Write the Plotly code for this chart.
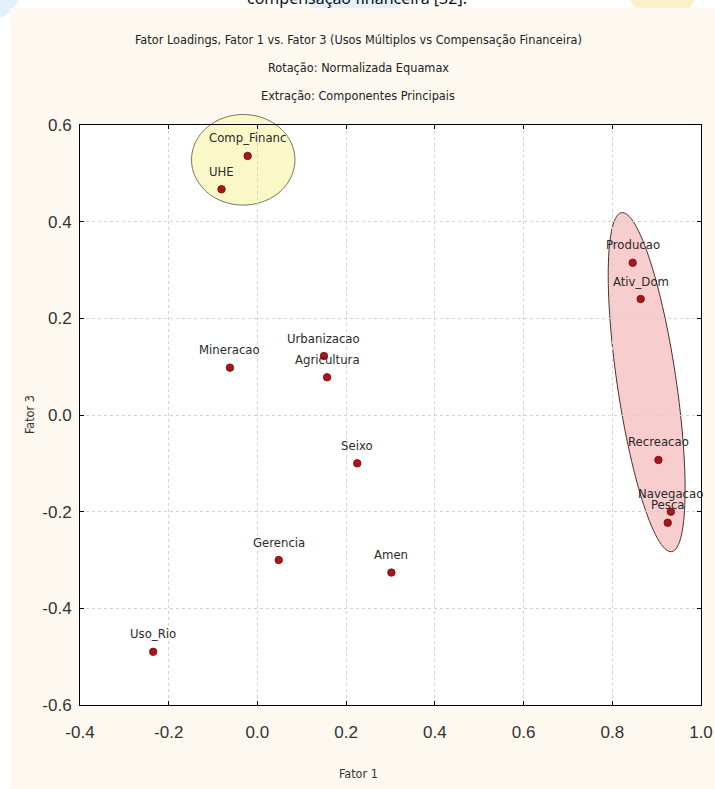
import numpy as np
import plotly.graph_objects as go

# Factor loadings (Fator 1 vs Fator 3)
variables = ["Comp_Financ", "UHE", "Mineracao", "Urbanizacao", "Agricultura",
             "Seixo", "Gerencia", "Amen", "Uso_Rio", "Producao", "Ativ_Dom",
             "Recreacao", "Navegacao", "Pesca"]
fator1 = [-0.022, -0.081, -0.062, 0.150, 0.157, 0.225, 0.048, 0.302, -0.235,
          0.846, 0.864, 0.904, 0.932, 0.925]
fator3 = [0.536, 0.467, 0.098, 0.122, 0.078, -0.100, -0.300, -0.326, -0.490,
          0.315, 0.240, -0.093, -0.200, -0.223]

x_ticks = [-0.4, -0.2, 0.0, 0.2, 0.4, 0.6, 0.8, 1.0]
x_tick_labels = ["-0.4", "-0.2", "0.0", "0.2", "0.4", "0.6", "0.8", "1.0"]
y_ticks = [-0.6, -0.4, -0.2, 0.0, 0.2, 0.4, 0.6]
y_tick_labels = ["-0.6", "-0.4", "-0.2", "0.0", "0.2", "0.4", "0.6"]

title_lines = [
    "Fator Loadings, Fator 1 vs. Fator 3 (Usos Múltiplos vs Compensação Financeira)",
    "Rotação: Normalizada Equamax",
    "Extração: Componentes Principais",
]

# Page / plot-area geometry (px)
W, H = 715, 789
ML, MR, MT, MB = 80, 14, 125, 84
PW, PH = W - ML - MR, H - MT - MB
XR = (-0.4, 1.0)
YR = (-0.6, 0.6)
SX = PW / (XR[1] - XR[0])
SY = PH / (YR[1] - YR[0])

NARROW = "DejaVu Sans Condensed, DejaVu Sans, sans-serif"
CREAM = "#fdf9f1"


def px_x(xp):
    return (xp - ML) / PW


def px_y(yp):
    return (H - MB - yp) / PH


def data_to_screen(x, y):
    return ML + (x - XR[0]) * SX, H - MB - (y - YR[0]) * SY


def ellipse_path(cx, cy, a, b, tilt_deg, n=120):
    """Ellipse centred on a data point. a = half-length along the long axis,
    b = half-width, both in screen px; the long axis is tilted tilt_deg from
    vertical (top leaning left for positive values). Paper coordinates."""
    X0, Y0 = data_to_screen(cx, cy)
    t = np.radians(tilt_deg)
    major = np.array([np.sin(t), np.cos(t)])
    minor = np.array([np.cos(t), -np.sin(t)])
    pts = []
    for s in np.linspace(0, 2 * np.pi, n):
        p = np.array([X0, Y0]) + a * np.cos(s) * major + b * np.sin(s) * minor
        pts.append((px_x(p[0]), px_y(p[1])))
    return "M " + " L ".join(f"{u:.5f},{v:.5f}" for u, v in pts) + " Z"


fig = go.Figure()

fig.add_trace(go.Scatter(
    x=fator1, y=fator3, mode="markers",
    marker=dict(size=7.5, color="#a8161a", line=dict(color="#6e0c0e", width=0.8)),
    hovertext=variables, hoverinfo="text", showlegend=False,
    cliponaxis=False,
))

shapes = [
    # faint watermark blobs in the page header strip
    dict(type="circle", xref="paper", yref="paper", layer="below",
         x0=px_x(300), x1=px_x(410), y0=px_y(30), y1=px_y(-80),
         fillcolor="#e3f1fb", line=dict(width=0)),
    dict(type="circle", xref="paper", yref="paper", layer="below",
         x0=px_x(-40), x1=px_x(20), y0=px_y(20), y1=px_y(-40),
         fillcolor="#e3f1fb", line=dict(width=0)),
    dict(type="circle", xref="paper", yref="paper", layer="below",
         x0=px_x(625), x1=px_x(700), y0=px_y(20), y1=px_y(-60),
         fillcolor="#fbf1c8", line=dict(width=0)),
    # figure background and plot area
    dict(type="rect", xref="paper", yref="paper", layer="below",
         x0=px_x(10), x1=px_x(W + 5), y0=px_y(H + 5), y1=px_y(8),
         fillcolor=CREAM, line=dict(width=0)),
    dict(type="rect", xref="paper", yref="paper", layer="below",
         x0=0, x1=1, y0=0, y1=1, fillcolor="white", line=dict(width=0)),
    # grouping ellipses
    dict(type="path", xref="paper", yref="paper", layer="below",
         path=ellipse_path(-0.032, 0.528, 45.3, 51.7, 0),
         fillcolor="#fbf8c8", line=dict(color="#77735a", width=1)),
    dict(type="path", xref="paper", yref="paper", layer="below",
         path=ellipse_path(0.8775, 0.068, 171.3, 29.5, 8.4),
         fillcolor="#f8cdcd", line=dict(color="#4d3030", width=1)),
]

annotations = []
# point labels
for name, xv, yv in zip(variables, fator1, fator3):
    annotations.append(dict(
        x=xv, y=yv, xref="x", yref="y", text=name, showarrow=False,
        yshift=18, font=dict(family=NARROW, size=13, color="#2a2a2a"),
        xanchor="center", yanchor="middle"))

# chart titles
for i, line in enumerate(title_lines):
    annotations.append(dict(
        x=px_x(358), y=px_y(39 + 28.5 * i), xref="paper", yref="paper",
        text=line, showarrow=False, xanchor="center", yanchor="middle",
        font=dict(family=NARROW, size=12.6, color="#222222")))

# axis titles
annotations.append(dict(
    x=px_x(358), y=px_y(773), xref="paper", yref="paper", text="Fator 1",
    showarrow=False, xanchor="center", yanchor="middle",
    font=dict(family=NARROW, size=12.5, color="#333333")))
annotations.append(dict(
    x=px_x(29), y=px_y(415), xref="paper", yref="paper", text="Fator 3",
    showarrow=False, xanchor="center", yanchor="middle", textangle=-90,
    font=dict(family=NARROW, size=12.5, color="#333333")))

# header text of the page this figure sits in
annotations.append(dict(
    x=px_x(357), y=px_y(-2), xref="paper", yref="paper",
    text="compensação financeira [32].", showarrow=False,
    xanchor="center", yanchor="middle",
    font=dict(family="Noto Sans, sans-serif", size=16, color="#111111")))

axis_common = dict(
    showline=True, linecolor="black", linewidth=1, mirror="ticks",
    ticks="inside", ticklen=4, tickcolor="black",
    showgrid=True, gridcolor="#d2d2d2", griddash="dot", gridwidth=1,
    zeroline=False,
    tickfont=dict(family="Liberation Sans, Arial, sans-serif", size=17,
                  color="#333333"),
)

fig.update_layout(
    width=W, height=H,
    margin=dict(l=ML, r=MR, t=MT, b=MB, autoexpand=False),
    paper_bgcolor="white", plot_bgcolor="white",
    xaxis=dict(range=list(XR), tickvals=x_ticks, ticktext=x_tick_labels,
               ticklabelstandoff=12, **axis_common),
    yaxis=dict(range=list(YR), tickvals=y_ticks, ticktext=y_tick_labels,
               ticklabelstandoff=4, **axis_common),
    shapes=shapes, annotations=annotations,
    showlegend=False,
)

fig.write_html("out.html")
